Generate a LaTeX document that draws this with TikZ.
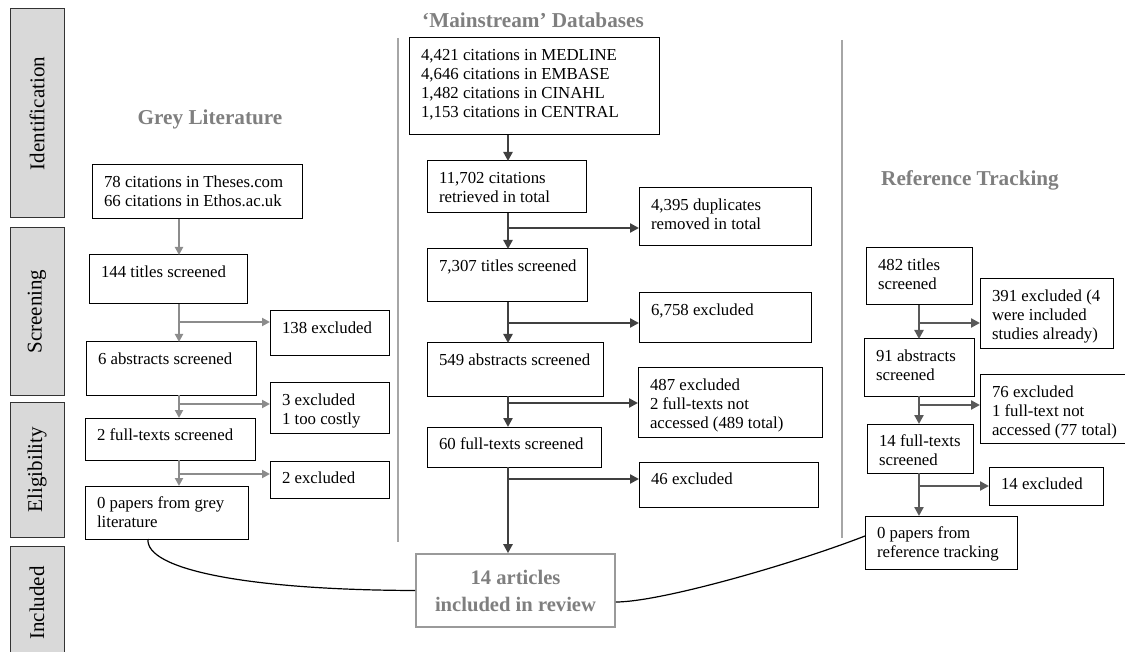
\documentclass[tikz,border=0pt]{standalone}
\usepackage{fontspec}
\setmainfont{Liberation Serif}
\usetikzlibrary{arrows.meta}
\definecolor{barfill}{HTML}{D9D9D9}
\definecolor{headgrey}{HTML}{7F7F7F}
\definecolor{sepgrey}{HTML}{A6A6A6}
\definecolor{greyarr}{HTML}{8C8C8C}
\definecolor{midarr}{HTML}{404040}
\definecolor{refarr}{HTML}{595959}
\definecolor{finalgrey}{HTML}{9A9A9A}
\newcommand{\boxtext}[3]{\parbox[t][#2pt][t]{#1pt}{\begin{tabular}[t]{@{}l@{}}#3\end{tabular}}}
\begin{document}
\begin{tikzpicture}[x=0.5pt, y=-0.5pt,
  box/.style={draw, line width=0.5pt, anchor=north west, inner xsep=6pt,
    inner ysep=4.5pt, outer sep=0pt, font=\fontsize{8.4}{9.5}\selectfont},
  bar/.style={draw=black!80, fill=barfill, line width=0.5pt, rotate=90,
    minimum height=27pt, font=\fontsize{10.5}{12}\selectfont},
  head/.style={text=headgrey, font=\fontsize{10.6}{12}\selectfont\bfseries},
  finalbox/.style={draw=finalgrey, line width=0.8pt, minimum width=99.5pt,
    minimum height=36.5pt, align=center, text=headgrey,
    font=\fontsize{10.3}{13.5}\selectfont\bfseries},
  garr/.style={draw=greyarr, line width=1pt, -{Triangle[length=4pt,width=4pt]}},
  marr/.style={draw=midarr, line width=1.4pt, -{Triangle[length=4.5pt,width=4.5pt]}},
  rarr/.style={draw=refarr, line width=1.2pt, -{Triangle[length=4.5pt,width=4.5pt]}},
  link/.style={draw=black, line width=0.6pt}]
\useasboundingbox (0,0) rectangle (1125,652);
\clip (0,0) rectangle (1125,652);
  % stages
  \node[bar, minimum width=104.5pt] (sid) at (37,113.5) {Identification};
  \node[bar, minimum width=83.5pt] (sscr) at (37,311.5) {Screening};
  \node[bar, minimum width=67.5pt] (selg) at (37,469.5) {Eligibility};
  \node[bar, minimum width=57pt] (sinc) at (37,603) {Included};
  \draw[sepgrey, line width=0.8pt] (398,38) -- (398,542);
  \draw[sepgrey, line width=0.8pt] (842,40) -- (842,538);
  \node[head] (hgrey) at (210,119) {Grey Literature};
  \node[head] (hmain) at (533,20) {‘Mainstream’ Databases};
  \node[head] (href) at (970,180) {Reference Tracking};
  % grey literature
  \node[box] (g1) at (92,165) {\boxtext{93}{18}{78 citations in Theses.com\\66 citations in Ethos.ac.uk}};
  \node[box] (g2) at (89,255) {\boxtext{67}{15.5}{144 titles screened}};
  \node[box] (g3) at (270,311) {\boxtext{47.5}{13.5}{138 excluded}};
  \node[box] (g4) at (86,342) {\boxtext{73}{17.5}{6 abstracts screened}};
  \node[box] (g5) at (270,383) {\boxtext{47.5}{16}{3 excluded\\1 too costly}};
  \node[box] (g6) at (85,418) {\boxtext{73}{12}{2 full-texts screened}};
  \node[box] (g7) at (270,461) {\boxtext{47.5}{9.5}{2 excluded}};
  \node[box] (g8) at (85,486) {\boxtext{69.5}{17.5}{0 papers from grey\\literature}};
  \coordinate (gs) at (179,0);
  \draw[garr] (g1.south -| gs) -- (g2.north -| gs);
  \draw[garr] (g2.south -| gs) -- (g4.north -| gs);
  \draw[garr] (g2.south -| gs) |- (g3.west |- 0,322);
  \draw[garr] (g4.south -| gs) -- (g6.north -| gs);
  \draw[garr] (g4.south -| gs) |- (g5.west |- 0,404);
  \draw[garr] (g6.south -| gs) -- (g8.north -| gs);
  \draw[garr] (g6.south -| gs) |- (g7.west |- 0,474);
  % mainstream databases
  \node[box] (m1) at (409,38) {\boxtext{113}{39.5}{4,421 citations in MEDLINE\\4,646 citations in EMBASE\\1,482 citations in CINAHL\\1,153 citations in CENTRAL}};
  \node[box] (m2) at (427,161) {\boxtext{67.5}{17}{11,702 citations\\retrieved in total}};
  \node[box] (m3) at (639,188) {\boxtext{74}{20}{4,395 duplicates\\removed in total}};
  \node[box] (m4) at (427,249) {\boxtext{68}{17.5}{7,307 titles screened}};
  \node[box] (m5) at (639,293) {\boxtext{74}{16}{6,758 excluded}};
  \node[box] (m6) at (427,343) {\boxtext{76}{17.5}{549 abstracts screened}};
  \node[box] (m7) at (638,368) {\boxtext{80}{25.5}{487 excluded\\2 full-texts not\\accessed (489 total)}};
  \node[box] (m8) at (427,427) {\boxtext{75}{11}{60 full-texts screened}};
  \node[box] (m9) at (639,462) {\boxtext{77.5}{13.5}{46 excluded}};
  \node[finalbox] (f) at (515.5,590.5) {14 articles\\included in review};
  \coordinate (ms) at (508,0);
  \draw[marr] (m1.south -| ms) -- (m2.north -| ms);
  \draw[marr] (m2.south -| ms) -- (m4.north -| ms);
  \draw[marr] (m2.south -| ms) |- (m3.west |- 0,228);
  \draw[marr] (m4.south -| ms) -- (m6.north -| ms);
  \draw[marr] (m4.south -| ms) |- (m5.west |- 0,323);
  \draw[marr] (m6.south -| ms) -- (m8.north -| ms);
  \draw[marr] (m6.south -| ms) |- (m7.west |- 0,403);
  \draw[marr] (m8.south -| ms) -- (f.north -| ms);
  \draw[marr] (m8.south -| ms) |- (m9.west |- 0,479);
  % reference tracking
  \node[box] (r1) at (866,248) {\boxtext{41}{19.5}{482 titles\\screened}};
  \node[box] (r2) at (980,279) {\boxtext{54.5}{26}{391 excluded (4\\were included\\studies already)}};
  \node[box] (r3) at (864,339) {\boxtext{43}{19.5}{91 abstracts\\screened}};
  \node[box] (r4) at (980,375) {\boxtext{62}{25}{76 excluded\\1 full-text not\\accessed (77 total)}};
  \node[box] (r5) at (867,424) {\boxtext{41}{15.5}{14 full-texts\\screened}};
  \node[box] (r6) at (989,467) {\boxtext{45}{10}{14 excluded}};
  \node[box] (r7) at (865,516) {\boxtext{64}{17.5}{0 papers from\\reference tracking}};
  \coordinate (rs) at (919,0);
  \draw[rarr] (r1.south -| rs) -- (r3.north -| rs);
  \draw[rarr] (r1.south -| rs) |- (r2.west |- 0,323);
  \draw[rarr] (r3.south -| rs) -- (r5.north -| rs);
  \draw[rarr] (r3.south -| rs) |- (r4.west |- 0,405);
  \draw[rarr] (r5.south -| rs) -- (r7.north -| rs);
  \draw[rarr] (r5.south -| rs) |- (r6.west |- 0,486);
  % into the review
  \draw[link] (g8.south -| 148,0) .. controls (145,570) and (250,590) .. (f.west);
  \draw[link] (f.east |- 0,602) .. controls (660,602) and (790,565) .. (r7.west |- 0,536);
\end{tikzpicture}
\end{document}
